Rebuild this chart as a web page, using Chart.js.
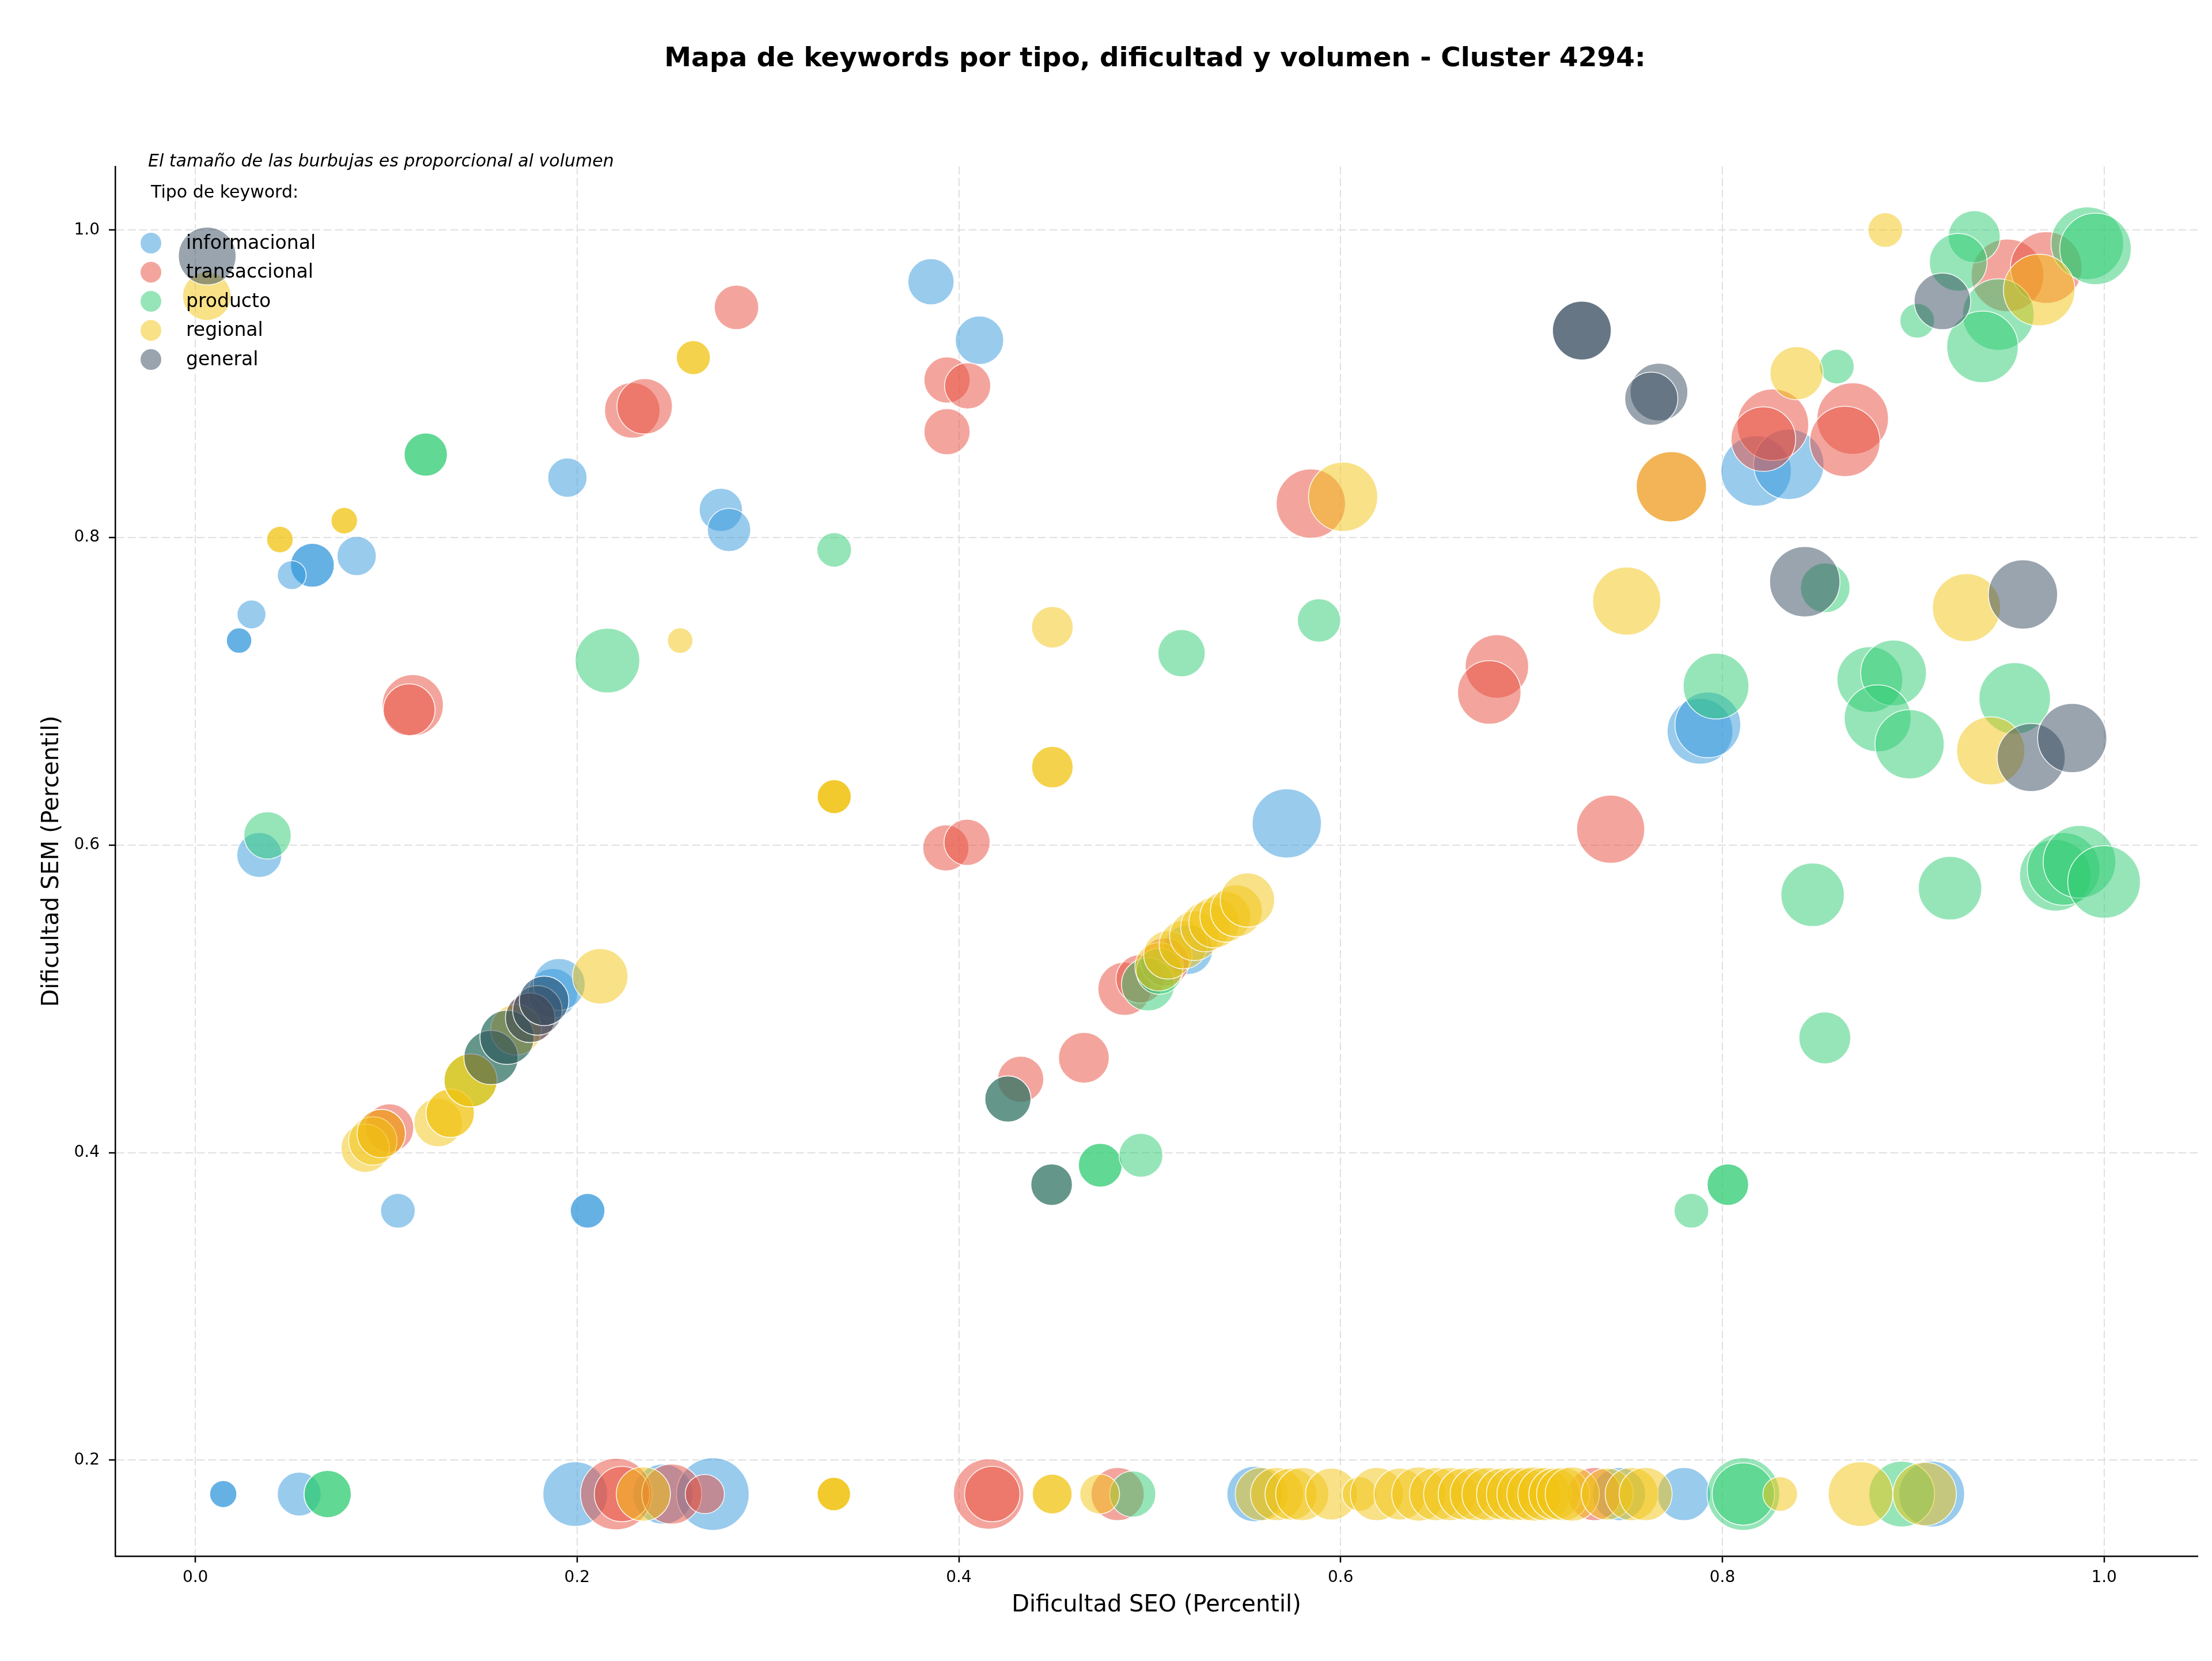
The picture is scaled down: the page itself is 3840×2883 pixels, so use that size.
<!DOCTYPE html>
<html>
<head>
<meta charset="utf-8">
<script src="https://cdn.jsdelivr.net/npm/chart.js@4.4.1/dist/chart.umd.min.js"></script>
<style>
  html, body { margin: 0; padding: 0; background: #fff; }
  canvas { display: block; }
</style>
</head>
<body>
<canvas id="c" width="3840" height="2883"></canvas>
<script>
/* Mapa de keywords: dificultad SEO vs SEM, burbuja = volumen */

var chartTitle = 'Mapa de keywords por tipo, dificultad y volumen - Cluster 4294:';
var sizeNote = 'El tamaño de las burbujas es proporcional al volumen';
var legendTitle = 'Tipo de keyword:';
var tipos = ['informacional', 'transaccional', 'producto', 'regional', 'general'];
var tipoColors = ['#3498db', '#e74c3c', '#2ecc71', '#f1c40f', '#34495e'];
var xTicks = [0.0, 0.2, 0.4, 0.6, 0.8, 1.0];
var yTicks = [0.2, 0.4, 0.6, 0.8, 1.0];

// informacional
var seoInfo = [0.0613, 0.0613, 0.0505, 0.0845, 0.0294, 0.0229, 0.0229, 0.1949, 0.2753, 0.2796, 0.0335, 0.1061, 0.2055, 0.2055, 0.3854, 0.4108, 0.5718, 0.8177, 0.8348, 0.7883, 0.7924, 0.1827, 0.1873, 0.1906, 0.520,
  0.0146, 0.0146, 0.0544, 0.199, 0.245, 0.2711, 0.555, 0.7459, 0.7799, 0.9097];
var semInfo = [0.782, 0.782, 0.7756, 0.788, 0.750, 0.733, 0.733, 0.839, 0.818, 0.805, 0.5936, 0.3622, 0.3622, 0.3622, 0.9664, 0.9283, 0.6141, 0.8433, 0.8476, 0.674, 0.6782, 0.4987, 0.5037, 0.5094, 0.532,
  0.178, 0.178, 0.178, 0.178, 0.178, 0.178, 0.178, 0.178, 0.178, 0.178];
var volInfo = [361, 361, 156, 289, 156, 121, 121, 289, 352, 352, 380, 225, 225, 225, 400, 441, 900, 930, 930, 812, 812, 462, 462, 506, 462,
  138, 138, 361, 784, 676, 992, 576, 529, 529, 812];

// transaccional
var seoTrans = [0.2289, 0.2354, 0.2835, 0.1139, 0.112, 0.3938, 0.4046, 0.3938, 0.5844, 0.6819, 0.6779, 0.3932, 0.4043, 0.4324, 0.4655, 0.7415, 0.7733, 0.8265, 0.8215, 0.8683, 0.8642, 0.9494, 0.9697, 0.1017, 0.0974, 0.1754, 0.4868, 0.495, 0.508,
  0.2205, 0.2235, 0.2496, 0.2669, 0.4156, 0.4175, 0.4832, 0.733];
var semTrans = [0.8827, 0.8853, 0.9497, 0.691, 0.688, 0.9025, 0.8986, 0.8689, 0.8221, 0.7162, 0.6993, 0.5982, 0.6018, 0.4477, 0.4617, 0.6103, 0.833, 0.8734, 0.864, 0.8774, 0.8625, 0.9705, 0.9756, 0.416, 0.4124, 0.4877, 0.5066, 0.513, 0.524,
  0.178, 0.178, 0.178, 0.178, 0.178, 0.178, 0.178, 0.178];
var volTrans = [576, 576, 371, 702, 506, 400, 400, 400, 900, 756, 756, 400, 400, 400, 484, 870, 930, 961, 784, 961, 930, 992, 961, 441, 441, 462, 529, 441, 441,
  961, 576, 676, 289, 930, 576, 529, 529];

// producto
var seoProd = [0.1207, 0.1207, 0.3347, 0.2159, 0.0378, 0.5167, 0.5887, 0.4486, 0.4741, 0.4741, 0.4954, 0.4257,
  0.932, 0.9236, 0.9912, 0.9955, 0.9021, 0.9446, 0.9363, 0.86, 0.8539, 0.7967, 0.8773, 0.8897, 0.8814, 0.8981, 0.9532,
  0.8473, 0.9193, 0.9745, 0.9788, 0.9871, 1.0, 0.8537, 0.8029, 0.8029, 0.7838,
  0.1442, 0.1549, 0.1633, 0.4991, 0.505,
  0.0693, 0.0693, 0.4911, 0.811, 0.811, 0.894];
var semProd = [0.854, 0.854, 0.792, 0.720, 0.6063, 0.7248, 0.7461, 0.3792, 0.3918, 0.3918, 0.3983, 0.4349,
  0.9957, 0.979, 0.9914, 0.9877, 0.941, 0.945, 0.924, 0.9112, 0.7673, 0.7034, 0.7077, 0.712, 0.6825, 0.6656, 0.6954,
  0.5677, 0.572, 0.5804, 0.5845, 0.5892, 0.5761, 0.4746, 0.3792, 0.3792, 0.3622,
  0.447, 0.4619, 0.475, 0.5095, 0.518,
  0.178, 0.178, 0.178, 0.178, 0.178, 0.178];
var volProd = [352, 352, 225, 784, 420, 420, 352, 324, 361, 361, 361, 400,
  506, 625, 992, 961, 225, 961, 961, 225, 462, 812, 812, 812, 841, 900, 961,
  756, 756, 961, 992, 992, 992, 506, 324, 324, 225,
  529, 552, 552, 529, 400,
  420, 420, 400, 992, 729, 812];

// regional
var seoReg = [0.006, 0.0443, 0.0443, 0.078, 0.078, 0.2609, 0.2609, 0.254, 0.3347, 0.3347, 0.3347, 0.449, 0.449, 0.449, 0.6013, 0.7499, 0.7733, 0.8854, 0.966, 0.8389, 0.9279, 0.9406,
  0.089, 0.093, 0.0974, 0.1272, 0.1335, 0.1335, 0.1442, 0.1442, 0.168, 0.2121,
  0.5049, 0.5095, 0.5176, 0.5234, 0.5292, 0.5338, 0.5396, 0.5454, 0.5512,
  0.2347, 0.3345, 0.3345, 0.3345, 0.4489, 0.4489, 0.4738,
  0.5587, 0.5667, 0.574, 0.5799, 0.5952, 0.6099, 0.619, 0.6311, 0.641, 0.650, 0.6574, 0.6647, 0.6713, 0.6775, 0.6848,
  0.6903, 0.6958, 0.7013, 0.7068, 0.7122, 0.7166, 0.7214, 0.7397, 0.7525, 0.7598,
  0.8303, 0.8724, 0.906];
var semReg = [0.957, 0.7987, 0.7987, 0.811, 0.811, 0.917, 0.917, 0.733, 0.6315, 0.6315, 0.6315, 0.7417, 0.6507, 0.6507, 0.8265, 0.7587, 0.833, 1.0, 0.961, 0.9069, 0.7544, 0.6613,
  0.4029, 0.4076, 0.4124, 0.4196, 0.4256, 0.4256, 0.447, 0.447, 0.480, 0.5147,
  0.5209, 0.5286, 0.5352, 0.541, 0.5467, 0.5496, 0.5534, 0.5572, 0.5643,
  0.178, 0.178, 0.178, 0.178, 0.178, 0.178, 0.178,
  0.178, 0.178, 0.178, 0.178, 0.178, 0.178, 0.178, 0.178, 0.178, 0.178, 0.178, 0.178, 0.178, 0.178, 0.178,
  0.178, 0.178, 0.178, 0.178, 0.178, 0.178, 0.178, 0.178, 0.178, 0.178,
  0.178, 0.178, 0.178];
var volReg = [441, 132, 132, 132, 132, 218, 218, 121, 218, 218, 218, 324, 324, 324, 900, 870, 930, 225, 961, 529, 870, 870,
  441, 441, 441, 441, 441, 441, 529, 529, 484, 576,
  441, 441, 441, 462, 462, 484, 484, 506, 552,
  552, 210, 210, 210, 298, 298, 298,
  529, 529, 506, 529, 506, 225, 529, 506, 552, 529, 529, 506, 529, 529, 506,
  529, 529, 552, 529, 506, 529, 552, 506, 529, 529,
  225, 784, 756];

// general
var seoGen = [0.0062, 0.7264, 0.7264, 0.7668, 0.7628, 0.9153, 0.8432, 0.9575, 0.9618, 0.9833, 0.1549, 0.1633, 0.1754, 0.1792, 0.1827, 0.4486, 0.4257];
var semGen = [0.9831, 0.9346, 0.9346, 0.8946, 0.8903, 0.9536, 0.7713, 0.763, 0.657, 0.6696, 0.4619, 0.475, 0.4877, 0.4925, 0.4987, 0.3792, 0.4349];
var volGen = [625, 650, 650, 625, 529, 600, 930, 900, 870, 900, 552, 552, 462, 462, 462, 324, 400];

var FONT = 'DejaVu Sans';

function withAlpha(hex, a) {
  var n = parseInt(hex.slice(1), 16);
  return 'rgba(' + ((n >> 16) & 255) + ',' + ((n >> 8) & 255) + ',' + (n & 255) + ',' + a + ')';
}

function bubbles(seo, sem, vol) {
  return seo.map(function (x, i) {
    return { x: x, y: sem[i], r: 2 * Math.sqrt(vol[i]) };
  });
}

var series = [
  bubbles(seoInfo, semInfo, volInfo),
  bubbles(seoTrans, semTrans, volTrans),
  bubbles(seoProd, semProd, volProd),
  bubbles(seoReg, semReg, volReg),
  bubbles(seoGen, semGen, volGen)
];

// chart.js paints the highest "order" first, so informacional goes at the bottom
var datasets = tipos.map(function (t, i) {
  return {
    label: t,
    data: series[i],
    order: tipos.length - 1 - i,
    backgroundColor: withAlpha(tipoColors[i], 0.5),
    borderColor: 'rgba(255,255,255,0.9)',
    borderWidth: 1.5,
    hoverBorderWidth: 1.5
  };
});

// title, note and legend drawn on top of the bubbles
var overlayPlugin = {
  id: 'overlay',
  afterDraw: function (chart) {
    var ctx = chart.ctx;
    ctx.save();
    ctx.fillStyle = '#000';
    ctx.textBaseline = 'middle';

    ctx.font = 'bold 47px "' + FONT + '"';
    ctx.textAlign = 'center';
    ctx.fillText(chartTitle, 2005, 103);

    ctx.textAlign = 'left';
    ctx.font = 'italic 30px "' + FONT + '"';
    ctx.fillText(sizeNote, 257, 281);

    ctx.font = '30px "' + FONT + '"';
    ctx.fillText(legendTitle, 262, 335);

    ctx.font = '33px "' + FONT + '"';
    for (var i = 0; i < tipos.length; i++) {
      var y = 422 + i * 50.5;
      ctx.beginPath();
      ctx.arc(262, y, 18, 0, Math.PI * 2);
      ctx.fillStyle = withAlpha(tipoColors[i], 0.5);
      ctx.fill();
      ctx.fillStyle = '#000';
      ctx.fillText(tipos[i], 323, y + 1);
    }
    ctx.restore();
  }
};

var gridStyle = { color: '#e0e0e0', lineWidth: 2, tickLength: 11, tickColor: '#000', tickWidth: 2.5, tickBorderDash: [] };
var borderStyle = { display: true, color: '#000', width: 2.5, dash: [14, 6] };

new Chart(document.getElementById('c'), {
  type: 'bubble',
  data: { datasets: datasets },
  plugins: [overlayPlugin],
  options: {
    responsive: false, animation: false, devicePixelRatio: 1,
    layout: { autoPadding: false, padding: { top: 289, right: 25, left: 0, bottom: 0 } },
    plugins: { legend: { display: false }, title: { display: false }, tooltip: { enabled: false } },
    scales: {
      x: {
        type: 'linear', min: -0.042, max: 1.049,
        afterBuildTicks: function (s) { s.ticks = xTicks.map(function (v) { return { value: v }; }); },
        afterFit: function (s) { s.height = 182; },
        grid: gridStyle, border: borderStyle,
        ticks: { color: '#000', padding: 10, font: { family: FONT, size: 28 }, callback: function (v) { return v.toFixed(1); } },
        title: { display: true, text: 'Dificultad SEO (Percentil)', color: '#000', font: { family: FONT, size: 40 }, padding: { top: 0, bottom: 72 } }
      },
      y: {
        type: 'linear', min: 0.1376, max: 1.0413,
        afterBuildTicks: function (s) { s.ticks = yTicks.map(function (v) { return { value: v }; }); },
        afterFit: function (s) { s.width = 200; },
        grid: gridStyle, border: borderStyle,
        ticks: { color: '#000', padding: 16, font: { family: FONT, size: 28 }, callback: function (v) { return v.toFixed(1); } },
        title: { display: true, text: 'Dificultad SEM (Percentil)', color: '#000', font: { family: FONT, size: 40 }, padding: { top: 67, bottom: 0 } }
      }
    }
  }
});
</script>
</body>
</html>
